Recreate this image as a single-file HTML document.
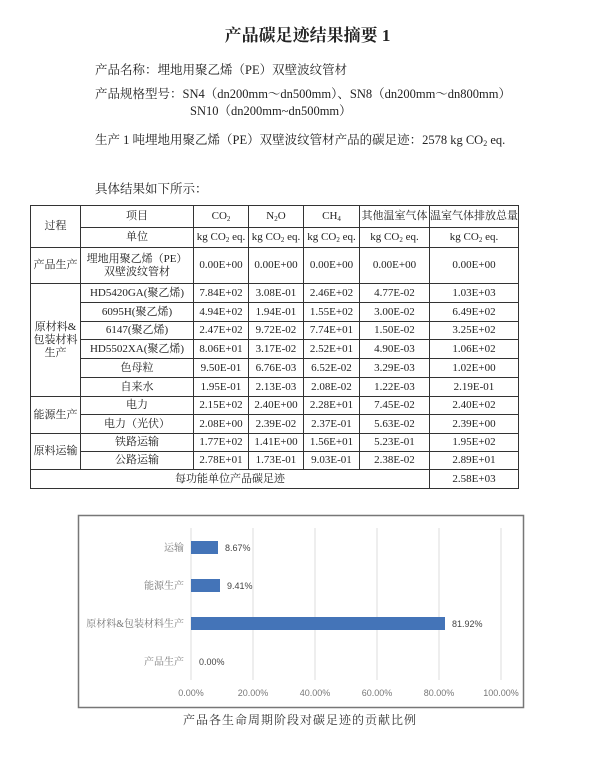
<!DOCTYPE html>
<html><head><meta charset="utf-8"><style>
body{margin:0;width:615px;height:774px;background:#fff;position:relative;font-family:"Liberation Serif","Noto Serif CJK SC",serif;color:#222;overflow:hidden}
.t{position:absolute;white-space:nowrap;font-size:12.5px}
table{position:absolute;left:30px;top:205px;border-collapse:collapse;font-size:11px;table-layout:fixed}
td{border:1px solid #333;text-align:center;padding:0;height:17px;line-height:13px;white-space:nowrap;overflow:hidden}
sub{font-size:7px;line-height:0;vertical-align:-2px}
.c{font-family:"Liberation Sans","Noto Sans CJK SC",sans-serif}
</style></head><body>
<div class="t" style="left:0;width:615px;text-align:center;top:21px;font-size:17px;font-weight:bold">产品碳足迹结果摘要 1</div>
<div class="t" style="left:95px;top:60px">产品名称：埋地用聚乙烯（PE）双壁波纹管材</div>
<div class="t" style="left:95px;top:84px">产品规格型号：SN4（dn200mm～dn500mm）、SN8（dn200mm～dn800mm）</div>
<div class="t" style="left:190px;top:101px">SN10（dn200mm~dn500mm）</div>
<div class="t" style="left:95px;top:130px">生产 1 吨埋地用聚乙烯（PE）双壁波纹管材产品的碳足迹：2578 kg CO<sub style="font-size:8px">2</sub> eq.</div>
<div class="t" style="left:95px;top:179px">具体结果如下所示：</div>
<table>
<colgroup><col style="width:50px"><col style="width:113px"><col style="width:55px"><col style="width:55px"><col style="width:56px"><col style="width:70px"><col style="width:88px"></colgroup>
<tr style="height:22px"><td rowspan="2">过程</td><td>项目</td><td>CO<sub>2</sub></td><td>N<sub>2</sub>O</td><td>CH<sub>4</sub></td><td>其他温室气体</td><td>温室气体排放总量</td></tr>
<tr style="height:20px"><td>单位</td><td>kg CO<sub>2</sub> eq.</td><td>kg CO<sub>2</sub> eq.</td><td>kg CO<sub>2</sub> eq.</td><td>kg CO<sub>2</sub> eq.</td><td>kg CO<sub>2</sub> eq.</td></tr>
<tr style="height:36px"><td>产品生产</td><td>埋地用聚乙烯（PE）<br>双壁波纹管材</td><td>0.00E+00</td><td>0.00E+00</td><td>0.00E+00</td><td>0.00E+00</td><td>0.00E+00</td></tr>
<tr style="height:19px"><td rowspan="6">原材料&amp;<br>包装材料<br>生产</td><td>HD5420GA(聚乙烯)</td><td>7.84E+02</td><td>3.08E-01</td><td>2.46E+02</td><td>4.77E-02</td><td>1.03E+03</td></tr>
<tr style="height:19px"><td>6095H(聚乙烯)</td><td>4.94E+02</td><td>1.94E-01</td><td>1.55E+02</td><td>3.00E-02</td><td>6.49E+02</td></tr>
<tr style="height:18px"><td>6147(聚乙烯)</td><td>2.47E+02</td><td>9.72E-02</td><td>7.74E+01</td><td>1.50E-02</td><td>3.25E+02</td></tr>
<tr style="height:19px"><td>HD5502XA(聚乙烯)</td><td>8.06E+01</td><td>3.17E-02</td><td>2.52E+01</td><td>4.90E-03</td><td>1.06E+02</td></tr>
<tr style="height:19px"><td>色母粒</td><td>9.50E-01</td><td>6.76E-03</td><td>6.52E-02</td><td>3.29E-03</td><td>1.02E+00</td></tr>
<tr style="height:19px"><td>自来水</td><td>1.95E-01</td><td>2.13E-03</td><td>2.08E-02</td><td>1.22E-03</td><td>2.19E-01</td></tr>
<tr style="height:18px"><td rowspan="2">能源生产</td><td>电力</td><td>2.15E+02</td><td>2.40E+00</td><td>2.28E+01</td><td>7.45E-02</td><td>2.40E+02</td></tr>
<tr style="height:19px"><td>电力（光伏）</td><td>2.08E+00</td><td>2.39E-02</td><td>2.37E-01</td><td>5.63E-02</td><td>2.39E+00</td></tr>
<tr style="height:18px"><td rowspan="2">原料运输</td><td>铁路运输</td><td>1.77E+02</td><td>1.41E+00</td><td>1.56E+01</td><td>5.23E-01</td><td>1.95E+02</td></tr>
<tr style="height:18px"><td>公路运输</td><td>2.78E+01</td><td>1.73E-01</td><td>9.03E-01</td><td>2.38E-02</td><td>2.89E+01</td></tr>
<tr style="height:19px"><td colspan="6">每功能单位产品碳足迹</td><td>2.58E+03</td></tr>
</table>
<svg style="position:absolute;left:0;top:0" width="615" height="774" class="c">
<rect x="78.5" y="515.5" width="445" height="192" fill="#fff" stroke="#777" stroke-width="1.5"/>
<g stroke="#ddd" stroke-width="1">
<line x1="191" y1="528" x2="191" y2="680"/><line x1="253" y1="528" x2="253" y2="680"/><line x1="315" y1="528" x2="315" y2="680"/><line x1="377" y1="528" x2="377" y2="680"/><line x1="439" y1="528" x2="439" y2="680"/><line x1="501" y1="528" x2="501" y2="680"/>
</g>
<g fill="#4474b8">
<rect x="191" y="541" width="27" height="13"/>
<rect x="191" y="579" width="29" height="13"/>
<rect x="191" y="617" width="254" height="13"/>
</g>
<g font-size="9" fill="#444" font-family="Liberation Sans,sans-serif">
<text x="225" y="551">8.67%</text><text x="227" y="589">9.41%</text><text x="452" y="627">81.92%</text><text x="199" y="665">0.00%</text>
</g>
<g font-size="10" fill="#777" text-anchor="end" font-family="Liberation Serif,'Noto Serif CJK SC',serif">
<text x="184" y="551">运输</text><text x="184" y="589">能源生产</text><text x="184" y="627">原材料&amp;包装材料生产</text><text x="184" y="665">产品生产</text>
</g>
<g font-size="9" fill="#777" text-anchor="middle" font-family="Liberation Sans,sans-serif">
<text x="191" y="696">0.00%</text><text x="253" y="696">20.00%</text><text x="315" y="696">40.00%</text><text x="377" y="696">60.00%</text><text x="439" y="696">80.00%</text><text x="501" y="696">100.00%</text>
</g>
<text x="300" y="724" font-size="12" text-anchor="middle" fill="#333" letter-spacing="1" font-family="Liberation Serif,'Noto Serif CJK SC',serif">产品各生命周期阶段对碳足迹的贡献比例</text>
</svg>
</body></html>
